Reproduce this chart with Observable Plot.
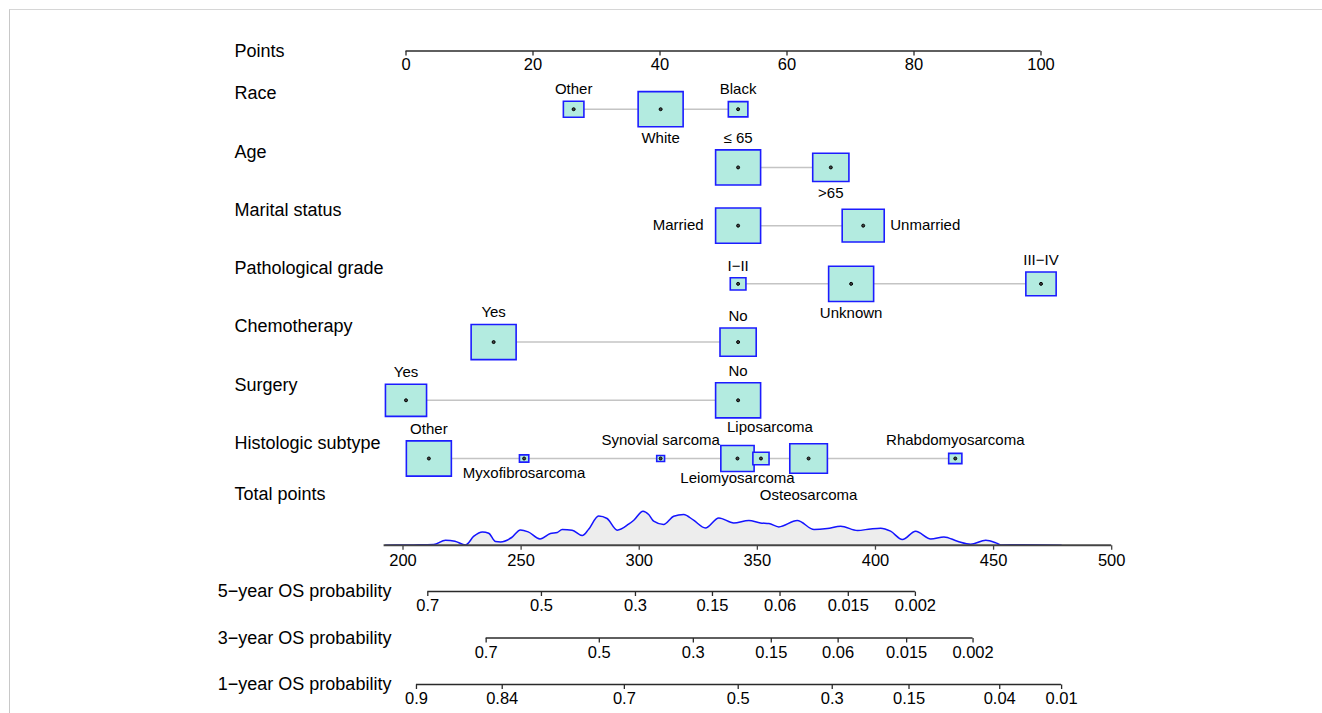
<!DOCTYPE html>
<html>
<head>
<meta charset="utf-8">
<script src="https://cdn.jsdelivr.net/npm/d3@7"></script>
<script src="https://cdn.jsdelivr.net/npm/@observablehq/plot@0.6"></script>
<style>
  body { margin: 0; background: #fff; }
  #chart { position: relative; width: 1322px; height: 713px; overflow: hidden; font-family: "Liberation Sans", Arial, sans-serif; }
  #frame { position: absolute; left: 9px; top: 9px; right: 0; bottom: 0; border-top: 1px solid #d6d6d6; border-left: 1px solid #c8c8c8; }
  .layer { position: absolute; left: 0; }
</style>
</head>
<body>
<div id="chart"><div id="frame"></div></div>
<script>
// ---------------- data ----------------
const pointsTitle = "Points";
const pointsTicks = [0, 20, 40, 60, 80, 100];

const variableNames = ["Race", "Age", "Marital status", "Pathological grade", "Chemotherapy", "Surgery", "Histologic subtype"];

const raceLevels = ["Other", "White", "Black"];
const racePoints = [26.4, 40.1, 52.3];
const raceFreq = [0.149, 0.715, 0.135];

const ageLevels = ["≤ 65", ">65"];
const agePoints = [52.3, 66.9];
const ageFreq = [0.607, 0.393];

const maritalLevels = ["Married", "Unmarried"];
const maritalPoints = [52.3, 72.0];
const maritalFreq = [0.534, 0.466];

const gradeLevels = ["I−II", "Unknown", "III−IV"];
const gradePoints = [52.3, 70.1, 100];
const gradeFreq = [0.077, 0.635, 0.288];

const chemoLevels = ["Yes", "No"];
const chemoPoints = [13.8, 52.3];
const chemoFreq = [0.607, 0.393];

const surgeryLevels = ["Yes", "No"];
const surgeryPoints = [0, 52.3];
const surgeryFreq = [0.455, 0.545];

const histoLevels = ["Other", "Myxofibrosarcoma", "Synovial sarcoma", "Leiomyosarcoma", "Liposarcoma", "Osteosarcoma", "Rhabdomyosarcoma"];
const histoPoints = [3.6, 18.6, 40.1, 52.2, 55.9, 63.4, 86.5];
const histoFreq = [0.395, 0.017, 0.012, 0.216, 0.051, 0.276, 0.034];

// label placement (layout, not data)
const raceSides = ["above", "below", "above"];
const ageSides = ["above", "below"];
const maritalSides = ["left", "right"];
const gradeSides = ["above", "below", "above"];
const chemoSides = ["above", "above"];
const surgerySides = ["above", "above"];
const histoSides = ["above", "below", "above", "belowTight", "above2", "below2", "above"];

const totalPointsTitle = "Total points";
const totalPointsTicks = [200, 250, 300, 350, 400, 450, 500];
const totalPointsRange = [192, 500];

const densityTotalPoints = [192.6,204.4,213,218,222,226.5,230,233.6,236.3,239.2,241.3,246,249.7,253,258,262.4,265.3,267.4,271.6,275.9,278.6,282.8,286.4,290.7,295.5,297.7,301.6,304,306.1,310.3,314.6,318.8,323,328,333.7,340,346.4,351.3,354.9,359.1,366.9,374,379.6,385.3,392.4,398,402.2,406.4,411.4,417,423.4,429,434.7,440.3,446.7,451,453,462,471.5,478.6];
const densityValues = [0,0.3,0.7,5,4,0.3,9,13.3,12,3.7,3.3,7.7,15.3,13.3,6.3,11.7,12.7,15.7,15,9.7,16,29.3,26.7,15,21,25,34,30.7,24,20.7,29,30.7,25,17.3,27.3,22.3,24.7,22.3,21.7,18.3,24.7,15.7,16.7,19,14.7,16.3,17,14,5.7,14,6.3,8.3,4,1,5,2.3,0.3,0.5,0.3,0];

const survivalTitles = ["5−year OS probability", "3−year OS probability", "1−year OS probability"];
const os5Labels = ["0.7", "0.5", "0.3", "0.15", "0.06", "0.015", "0.002"];
const os5TotalPoints = [210.5, 258.6, 298.4, 331.0, 359.6, 388.5, 416.9];
const os3Labels = ["0.7", "0.5", "0.3", "0.15", "0.06", "0.015", "0.002"];
const os3TotalPoints = [235.2, 283.1, 322.9, 355.9, 384.2, 413.2, 441.3];
const os1Labels = ["0.9", "0.84", "0.7", "0.5", "0.3", "0.15", "0.04", "0.01"];
const os1TotalPoints = [205.7, 242.0, 293.7, 341.9, 381.7, 414.2, 452.6, 478.8];

// ---------------- styles ----------------
const FONT = "Liberation Sans, Arial, Helvetica, sans-serif";
const BOX_FILL = "#b3ebe0", BOX_STROKE = "#1c1cff", SPAN = "#c4c4c4", AXIS = "#2a2a2a";
const R_MAX = 22.5, BOX_ASPECT = 1.28;
const svgStyle = { fontFamily: FONT, background: "transparent", overflow: "visible" };

const boxSymbol = { draw(context, size) { const r = Math.sqrt(size / Math.PI); const h = r / BOX_ASPECT; context.rect(-r, -h, 2 * r, 2 * h); } };
const tickSymbol = { draw(context) { context.moveTo(0, 0); context.lineTo(0, 4.5); } };

// ---------------- build tables ----------------
const vars = [
  [raceLevels, racePoints, raceFreq, raceSides],
  [ageLevels, agePoints, ageFreq, ageSides],
  [maritalLevels, maritalPoints, maritalFreq, maritalSides],
  [gradeLevels, gradePoints, gradeFreq, gradeSides],
  [chemoLevels, chemoPoints, chemoFreq, chemoSides],
  [surgeryLevels, surgeryPoints, surgeryFreq, surgerySides],
  [histoLevels, histoPoints, histoFreq, histoSides]
];
const items = vars.flatMap(([lv, pts, fr, sd], vi) => {
  const m = d3.max(fr);
  return lv.map((l, i) => ({ row: vi + 1, level: l, points: pts[i], rel: fr[i] / m, side: sd[i] }));
});
const spans = vars.map(([lv, pts], vi) => ({ row: vi + 1, min: d3.min(pts), max: d3.max(pts) }));
const titles = variableNames.map((n, i) => ({ row: i + 1, name: n }));

function levelLabel(d) {
  const halfW = R_MAX * Math.sqrt(d.rel), halfH = halfW / BOX_ASPECT;
  let dx = 0, dy = 0, textAnchor = "middle";
  if (d.side === "above") dy = -(Math.max(halfH, 6) + 12);
  else if (d.side === "above2") { dy = -(Math.max(halfH, 6) + 25); dx = 9; }
  else if (d.side === "below") dy = Math.max(halfH, 3) + 11.5;
  else if (d.side === "belowTight") dy = Math.max(halfH, 3) + 6.5;
  else if (d.side === "below2") dy = Math.max(halfH, 3) + 22;
  else if (d.side === "left") { dx = -(halfW + 12); textAnchor = "end"; }
  else if (d.side === "right") { dx = halfW + 6; textAnchor = "start"; }
  return Plot.text([d], { x: "points", y: "row", text: "level", dx, dy, textAnchor, lineAnchor: "middle", fontSize: 15, fill: "#000" });
}

const chart = document.getElementById("chart");
function addLayer(svg, top) {
  const div = document.createElement("div");
  div.className = "layer";
  div.style.top = top + "px";
  div.appendChild(svg);
  chart.appendChild(div);
}

// ---------------- layer A: points axis and predictor rows ----------------
const plotA = Plot.plot({
  width: 1322, height: 510,
  marginLeft: 405.5, marginRight: 281.5, marginTop: 50.5, marginBottom: 52,
  x: { domain: [0, 100], axis: null },
  y: { domain: [0, 7], reverse: true, axis: null },
  r: { type: "sqrt", domain: [0, 1], range: [0, R_MAX] },
  style: svgStyle,
  marks: [
    Plot.text([pointsTitle], { frameAnchor: "left", y: 0, text: d => d, dx: -171.5, textAnchor: "start", lineAnchor: "middle", fontSize: 18, fill: "#000" }),
    Plot.text(titles, { frameAnchor: "left", y: "row", text: "name", dx: -171.5, dy: -15.5, textAnchor: "start", lineAnchor: "middle", fontSize: 18, fill: "#000" }),
    Plot.ruleY([0], { x1: d3.min(pointsTicks), x2: d3.max(pointsTicks), stroke: AXIS, strokeWidth: 1.5 }),
    Plot.dot(pointsTicks, { x: d => d, y: 0, r: 1, symbol: tickSymbol, fill: "none", stroke: AXIS, strokeWidth: 1.3 }),
    Plot.text(pointsTicks, { x: d => d, y: 0, text: d => String(d), dy: 13.5, lineAnchor: "middle", fontSize: 16.5, fill: "#000" }),
    Plot.ruleY(spans, { y: "row", x1: "min", x2: "max", stroke: SPAN, strokeWidth: 1.5 }),
    Plot.dot(items, { x: "points", y: "row", r: "rel", symbol: boxSymbol, fill: BOX_FILL, stroke: BOX_STROKE, strokeWidth: 1.6 }),
    Plot.dot(items, { x: "points", y: "row", r: 1.5, fill: "#444", stroke: "#000", strokeWidth: 1 }),
    ...items.map(levelLabel)
  ]
});
addLayer(plotA, 0);

// ---------------- layer B: total points density and axis ----------------
const density = densityTotalPoints.map((t, i) => ({ tp: t, d: densityValues[i] }));
const plotB = Plot.plot({
  width: 1322, height: 110,
  marginLeft: 402.5, marginRight: 210.8, marginTop: 40.7, marginBottom: 35.3,
  x: { domain: [200, 500], axis: null },
  y: { domain: [0, 34], axis: null },
  style: svgStyle,
  marks: [
    Plot.text([totalPointsTitle], { frameAnchor: "top-left", text: d => d, dx: -168.5, dy: -16.7, textAnchor: "start", lineAnchor: "middle", fontSize: 18, fill: "#000" }),
    Plot.areaY(density, { x: "tp", y: "d", fill: "#ededed", curve: "monotone-x" }),
    Plot.lineY(density, { x: "tp", y: "d", stroke: "#1414ff", strokeWidth: 1.5, curve: "monotone-x" }),
    Plot.ruleY([0], { x1: totalPointsRange[0], x2: totalPointsRange[1], stroke: "#444", strokeWidth: 2 }),
    Plot.dot(totalPointsTicks, { x: d => d, y: 0, r: 1, symbol: tickSymbol, fill: "none", stroke: "#444", strokeWidth: 1.3 }),
    Plot.text(totalPointsTicks, { x: d => d, y: 0, text: d => String(d), dy: 15.3, lineAnchor: "middle", fontSize: 16.5, fill: "#000" })
  ]
});
addLayer(plotB, 470);

// ---------------- layer C: survival probability axes ----------------
const survAxes = [[os5Labels, os5TotalPoints], [os3Labels, os3TotalPoints], [os1Labels, os1TotalPoints]];
const survTicks = survAxes.flatMap(([labs, tps], row) => labs.map((l, i) => ({ row, label: l, tp: tps[i] })));
const survSpans = survAxes.map(([labs, tps], row) => ({ row, min: d3.min(tps), max: d3.max(tps) }));
const survTitleRows = survivalTitles.map((t, row) => ({ row, title: t }));
const plotC = Plot.plot({
  width: 1322, height: 143,
  marginLeft: 402.5, marginRight: 210.8, marginTop: 21, marginBottom: 29,
  x: { domain: [200, 500], axis: null },
  y: { domain: [0, 2], reverse: true, axis: null },
  style: svgStyle,
  marks: [
    Plot.text(survTitleRows, { frameAnchor: "left", y: "row", text: "title", dx: -185.2, textAnchor: "start", lineAnchor: "middle", fontSize: 18, fill: "#000" }),
    Plot.ruleY(survSpans, { y: "row", x1: "min", x2: "max", stroke: AXIS, strokeWidth: 1.5 }),
    Plot.dot(survTicks, { x: "tp", y: "row", r: 1, symbol: tickSymbol, fill: "none", stroke: AXIS, strokeWidth: 1.3 }),
    Plot.text(survTicks, { x: "tp", y: "row", text: "label", dy: 14.5, lineAnchor: "middle", fontSize: 16.5, fill: "#000" })
  ]
});
addLayer(plotC, 570);
</script>
</body>
</html>
